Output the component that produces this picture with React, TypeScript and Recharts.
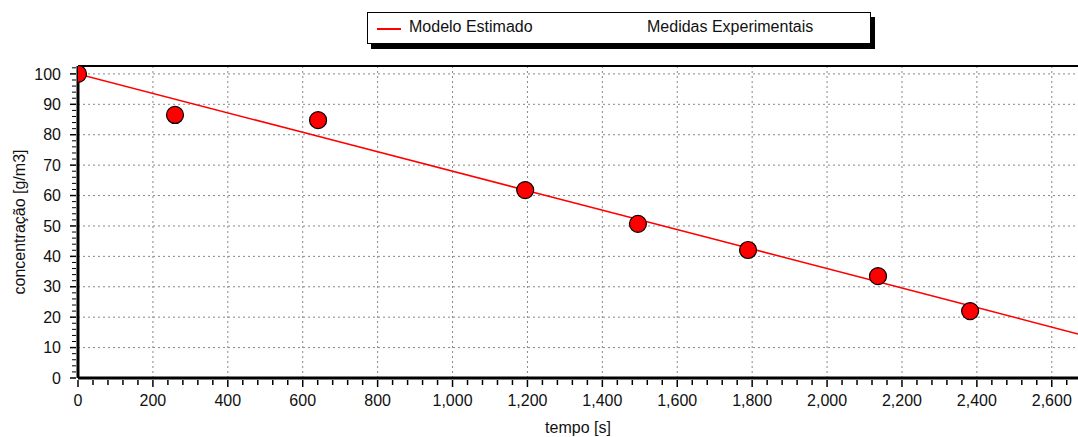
import React from 'react'
import {
  ComposedChart,
  Line,
  Scatter,
  XAxis,
  YAxis,
  ReferenceLine,
} from 'recharts'

// modelo estimado (linha)
const modelTimes = [0, 600, 1200, 1800, 2400, 2670]
const modelValues = [100, 80.8, 61.6, 42.4, 23.2, 14.5]

// medidas experimentais (pontos)
const measTimes = [0, 259, 641, 1194, 1495, 1789, 2136, 2382]
const measValues = [100, 86.5, 84.8, 61.8, 50.7, 42.1, 33.5, 22]

const xTicks = [0, 200, 400, 600, 800, 1000, 1200, 1400, 1600, 1800, 2000, 2200, 2400, 2600]
const xMinorTicks = Array.from({ length: 67 }, (_, i) => i * 40)
const yTicks = [0, 10, 20, 30, 40, 50, 60, 70, 80, 90, 100]
const yMinorTicks = Array.from({ length: 52 }, (_, i) => i * 2)
const yTop = 102.6

const modelData = modelTimes.map((t, i) => ({ t, v: modelValues[i] }))
const measData = measTimes.map((t, i) => ({ t, v: measValues[i] }))

const font = '"Liberation Sans", Arial, sans-serif'

const LegendBox = () => (
  <div
    style={{
      position: 'absolute',
      left: 367,
      top: 12,
      width: 502,
      height: 30,
      border: '1px solid #000',
      background: '#fff',
      boxShadow: '4px 5px 0 #000',
      fontFamily: font,
      fontSize: 16,
      color: '#111',
      zIndex: 2,
    }}
  >
    <div style={{ position: 'absolute', left: 9, top: 15, width: 24, height: 2, background: '#ff0000' }} />
    <span style={{ position: 'absolute', left: 41, top: 5 }}>Modelo Estimado</span>
    <span style={{ position: 'absolute', left: 279, top: 5 }}>Medidas Experimentais</span>
  </div>
)

const Dot = (props: any) => (
  <circle cx={props.cx} cy={props.cy} r={8.5} fill="#ff0000" stroke="#000" strokeWidth={1.2} />
)

// x ticks: minor marks every 40, label + longer mark every 200
const XTick = (props: any) => {
  const { x, y, payload } = props
  const v = payload.value
  const major = v % 200 === 0
  return (
    <g>
      <line x1={x} x2={x} y1={y} y2={y + (major ? 7 : 5)} stroke="#000" strokeWidth={1.5} />
      {major && (
        <text x={x} y={y + 15} dy="0.71em" textAnchor="middle" fill="#111" fontSize={16} fontFamily={font}>
          {v.toLocaleString('en-US')}
        </text>
      )}
    </g>
  )
}

// y ticks: minor marks every 2, label every 10
const YTick = (props: any) => {
  const { x, y, payload } = props
  const v = payload.value
  const major = v % 10 === 0
  return (
    <g>
      <line x1={x} x2={x - (major ? 6 : 4)} y1={y} y2={y} stroke="#000" strokeWidth={major ? 1.5 : 1} />
      {major && (
        <text x={x - 15} y={y} dy="0.355em" textAnchor="end" fill="#111" fontSize={16} fontFamily={font}>
          {v}
        </text>
      )}
    </g>
  )
}

const YLabel = (props: any) => {
  const vb = props.viewBox || {}
  const cy = (vb.y || 0) + (vb.height || 0) / 2
  return (
    <text
      x={19}
      y={cy}
      transform={`rotate(-90, 19, ${cy})`}
      textAnchor="middle"
      dominantBaseline="central"
      fill="#111"
      fontSize={16}
      fontFamily={font}
    >
      concentração [g/m3]
    </text>
  )
}

export default function App() {
  return (
    <div style={{ position: 'absolute', left: 0, top: 0, width: 1078, height: 437, background: '#fff' }}>
      <LegendBox />
      <ComposedChart
        width={1078}
        height={437}
        margin={{ top: 66, right: 0, bottom: 0, left: 0 }}
      >
        <XAxis
          type="number"
          dataKey="t"
          domain={[0, 2670]}
          allowDataOverflow
          ticks={xMinorTicks}
          interval={0}
          tick={<XTick />}
          tickSize={0}
          tickLine={false}
          axisLine={{ stroke: '#000', strokeWidth: 3 }}
          height={59}
          label={{ value: 'tempo [s]', position: 'insideBottom', offset: 4, fill: '#111', fontSize: 16, fontFamily: font }}
        />
        <YAxis
          type="number"
          domain={[0, yTop]}
          allowDataOverflow
          ticks={yMinorTicks}
          interval={0}
          tick={<YTick />}
          tickSize={0}
          tickLine={false}
          axisLine={{ stroke: '#000', strokeWidth: 3 }}
          width={78}
          label={<YLabel />}
        />
        {/* dashed grid at the labelled ticks */}
        {xTicks.slice(1).map((t) => (
          <ReferenceLine key={'gx' + t} x={t} stroke="#888" strokeDasharray="2 3" />
        ))}
        {yTicks.slice(1).map((t) => (
          <ReferenceLine key={'gy' + t} y={t} stroke="#888" strokeDasharray="2 3" />
        ))}
        <ReferenceLine y={yTop} stroke="#000" strokeWidth={2} ifOverflow="visible" />
        <Line
          data={modelData}
          dataKey="v"
          type="linear"
          stroke="#ff0000"
          strokeWidth={1.5}
          dot={false}
          activeDot={false}
          isAnimationActive={false}
          name="Modelo Estimado"
        />
        <Scatter
          data={measData}
          dataKey="v"
          shape={Dot}
          isAnimationActive={false}
          name="Medidas Experimentais"
        />
      </ComposedChart>
    </div>
  )
}
